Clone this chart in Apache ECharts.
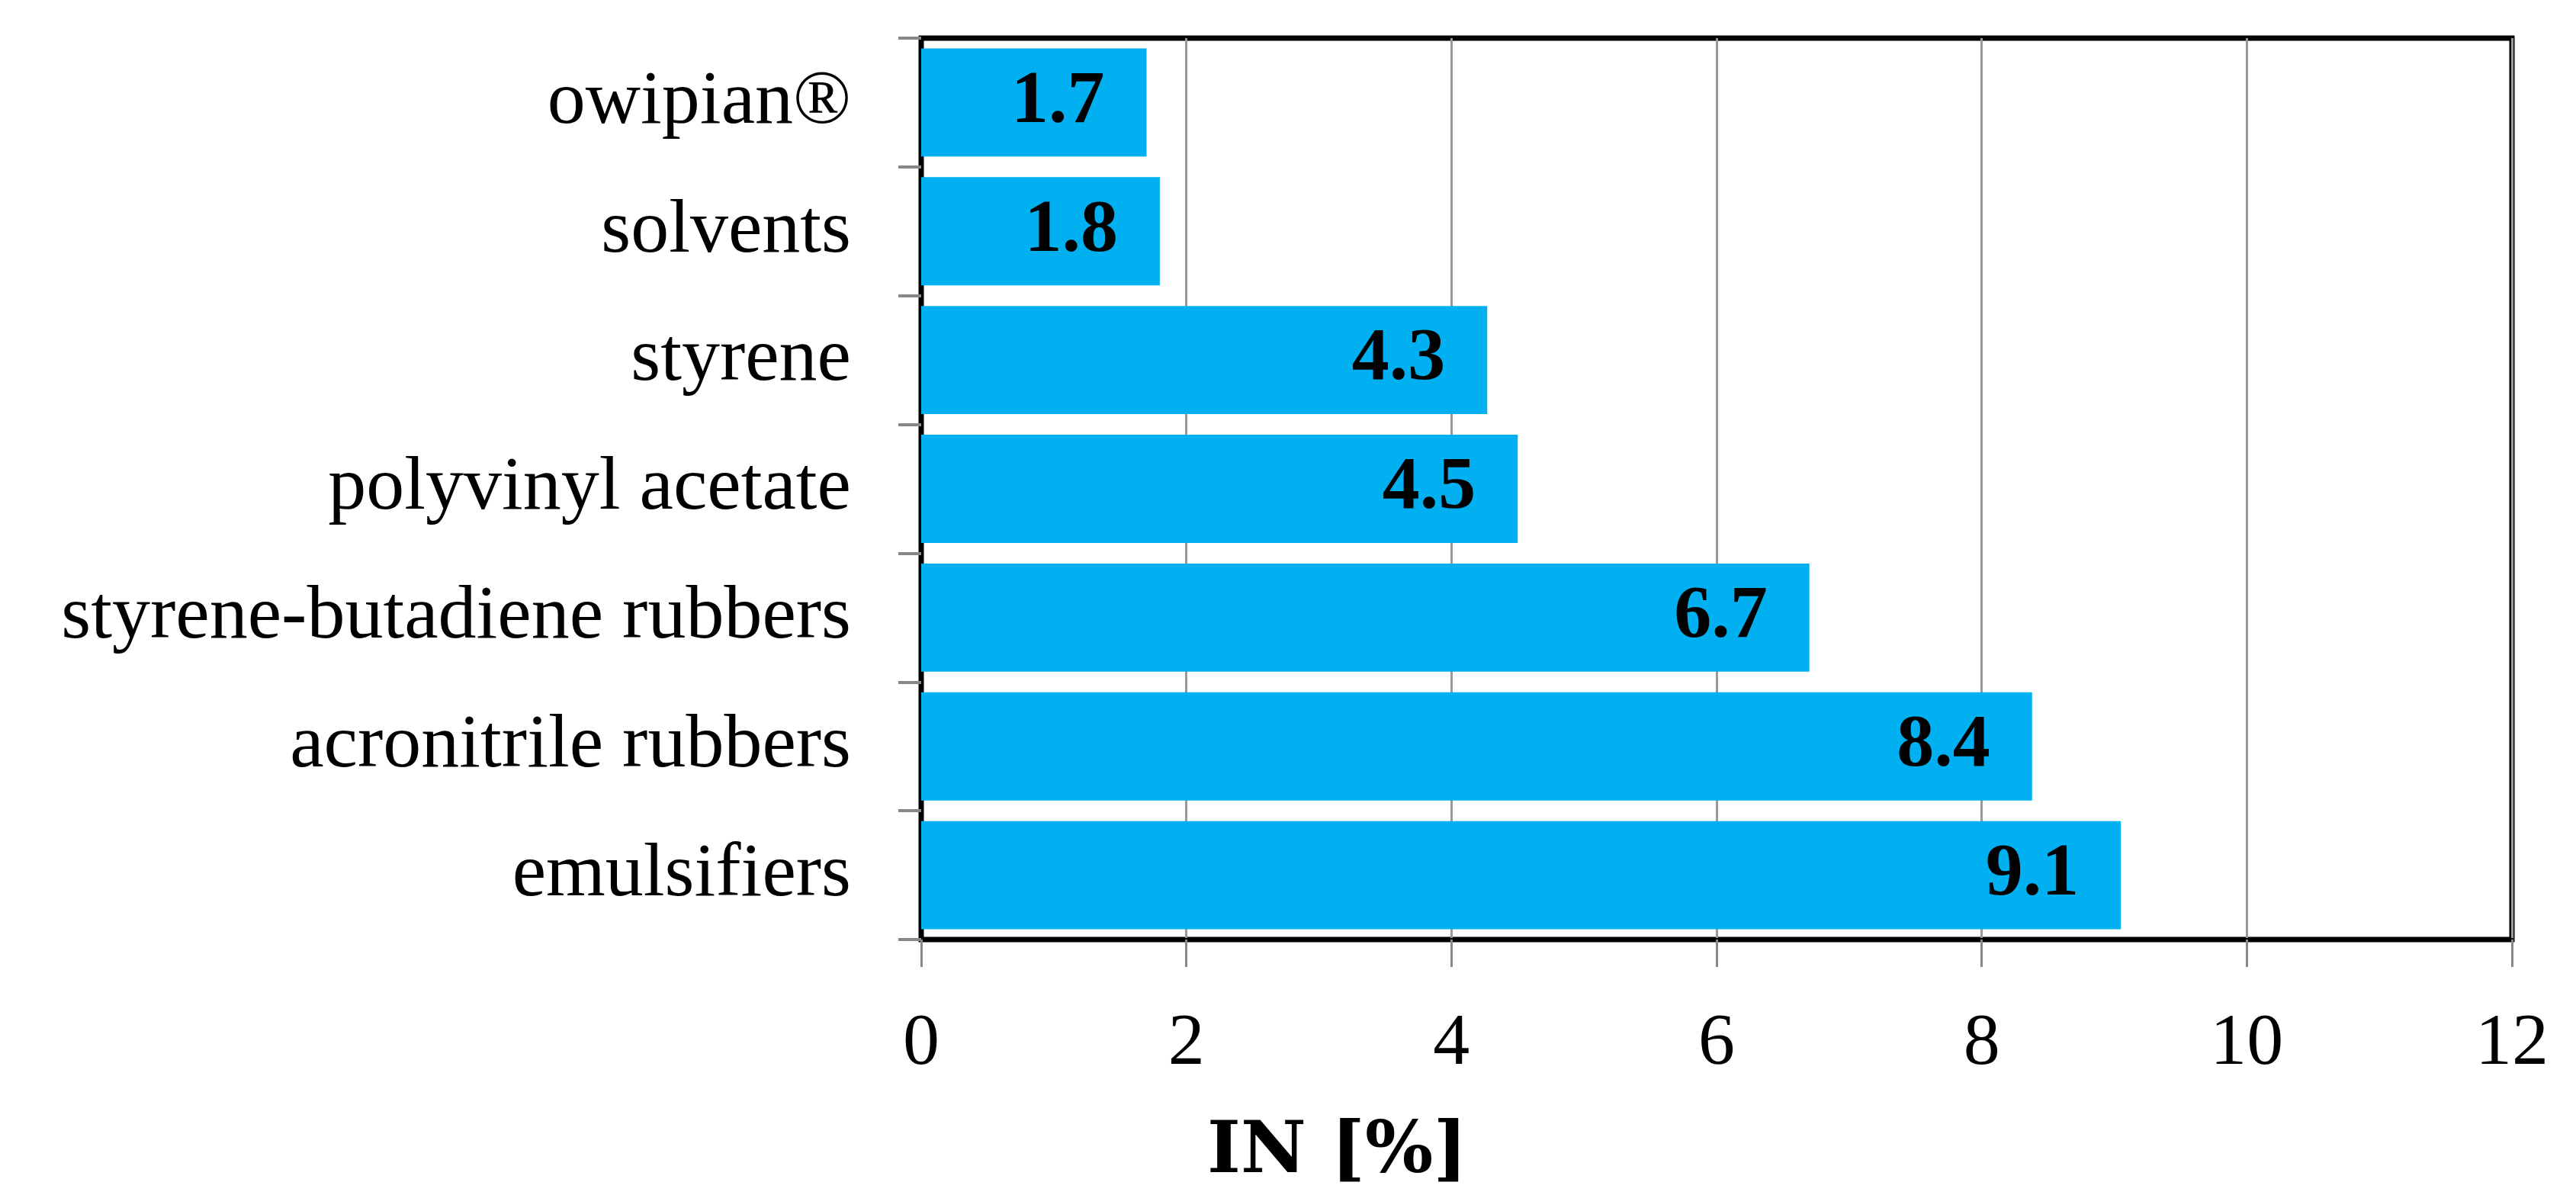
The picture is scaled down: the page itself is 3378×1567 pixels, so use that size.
<!DOCTYPE html>
<html>
<head>
<meta charset="utf-8">
<script src="https://cdn.jsdelivr.net/npm/echarts@6/dist/echarts.min.js"></script>
<style>html,body{margin:0;padding:0;background:#fff;}#chart{width:3378px;height:1567px;}</style>
</head>
<body>
<div id="chart"></div>
<script>
const categories = ['owipian®', 'solvents', 'styrene', 'polyvinyl acetate', 'styrene-butadiene rubbers', 'acronitrile rubbers', 'emulsifiers'];
const values = [1.7, 1.8, 4.27, 4.5, 6.7, 8.38, 9.05];
const xTicks = [0, 2, 4, 6, 8, 10, 12];
const xTitle = 'IN [%]';

const FONT = '"Liberation Serif", "Times New Roman", serif';
const chart = echarts.init(document.getElementById('chart'));
chart.setOption({
  animation: false,
  backgroundColor: '#fff',
  title: {
    text: xTitle,
    left: 1583,
    top: 1466,
    padding: 0,
    textStyle: { fontFamily: '"DejaVu Serif", serif', fontSize: 94, fontWeight: 'bold', color: '#000' }
  },
  grid: {
    left: 1208, top: 50, width: 2086, height: 1182,
    show: true, borderColor: '#000', borderWidth: 7, backgroundColor: 'transparent'
  },
  xAxis: {
    type: 'value',
    min: xTicks[0], max: xTicks[xTicks.length - 1], interval: 2,
    axisLine: { show: true, lineStyle: { color: '#000', width: 5 } },
    axisTick: { show: true, length: 36, lineStyle: { color: '#888', width: 3 } },
    axisLabel: { margin: 90, fontFamily: FONT, fontSize: 96, color: '#000' },
    splitLine: { show: true, lineStyle: { color: '#999', width: 3 } }
  },
  yAxis: {
    type: 'category',
    data: categories,
    inverse: true,
    axisLine: { show: true, lineStyle: { color: '#000', width: 5 } },
    axisTick: { show: true, length: 30, lineStyle: { color: '#888', width: 4 } },
    axisLabel: { margin: 92, fontFamily: FONT, fontSize: 100, color: '#000' },
    splitLine: { show: false }
  },
  series: [{
    type: 'bar',
    data: values,
    barCategoryGap: '16%',
    itemStyle: { color: '#00B0F0' },
    label: {
      show: true,
      position: 'insideRight',
      distance: 55,
      fontFamily: FONT,
      fontSize: 98,
      fontWeight: 'bold',
      color: '#000',
      formatter: p => p.value.toFixed(1)
    }
  }]
});
</script>
</body>
</html>
